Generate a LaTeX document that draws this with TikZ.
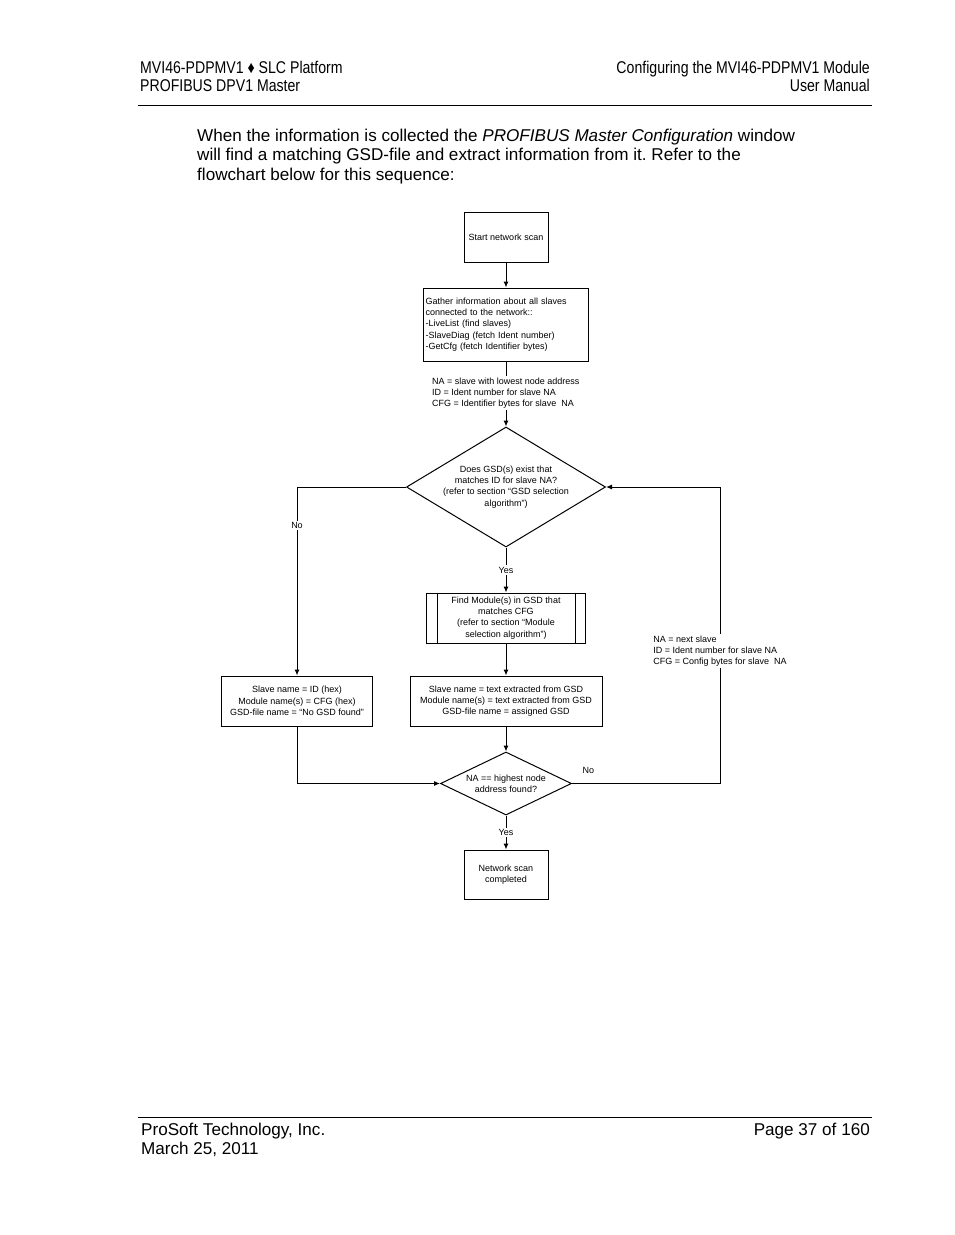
\documentclass[tikz,border=0pt]{standalone}
\usepackage{fontspec}
\setmainfont{Liberation Sans}
\newfontfamily\narrowfont[FakeStretch=0.83]{Liberation Sans}
\usetikzlibrary{shapes.geometric,arrows.meta}
\frenchspacing
\newcommand\chartfont{\fontsize{9}{11.3}\selectfont}
\newcommand\pagefont{\fontsize{17.1}{19.5}\selectfont}
\newcommand\headfont{\narrowfont\fontsize{17}{19}\selectfont}
\tikzset{
  stepbox/.style={draw, line width=1pt, rectangle, inner sep=0pt, font=\chartfont, align=center},
  decision/.style={draw, line width=1pt, diamond, inner sep=0pt},
  chartlabel/.style={font=\chartfont, inner sep=1.5pt},
  flow/.style={line width=1pt, -{Latex[length=6pt,width=5pt]}},
  pagetext/.style={inner sep=0pt, font=\pagefont},
  headtext/.style={inner sep=0pt, font=\headfont}
}
\begin{document}
\begin{tikzpicture}[x=1pt,y=-1pt]
  \fill[white] (0,0) rectangle (954,1235);
  \useasboundingbox (0,0) rectangle (954,1235);
  % page header
  \node[headtext, anchor=base west] (headl1) at (140,73) {MVI46-PDPMV1 ♦ SLC Platform};
  \node[headtext, anchor=base west] (headl2) at (140,91.5) {PROFIBUS DPV1 Master};
  \node[headtext, anchor=base east] (headr1) at (870,73) {Configuring the MVI46-PDPMV1 Module};
  \node[headtext, anchor=base east] (headr2) at (870,91.5) {User Manual};
  \draw[line width=1pt] (138,105.5) -- (872,105.5);
  % intro text
  \node[pagetext, anchor=base west] (intro1) at (197,141) {When the information is collected the \textit{PROFIBUS Master Configuration} window};
  \node[pagetext, anchor=base west] (intro2) at (197,160.5) {will find a matching GSD-file and extract information from it. Refer to the};
  \node[pagetext, anchor=base west] (intro3) at (197,180) {flowchart below for this sequence:};
  % flowchart
  \node[stepbox, minimum width=84pt, minimum height=50pt] (start) at (506,237) {Start network scan};
  \node[stepbox, minimum width=165pt, minimum height=73pt, text width=161pt, inner xsep=2pt, align=left] (gather) at (506,324.5)
    {Gather information about all slaves\\ connected to the network::\\ -LiveList (find slaves)\\ -SlaveDiag (fetch Ident number)\\ -GetCfg (fetch Identifier bytes)};
  \node[chartlabel, anchor=west, align=left] (slaveinfo) at (430.5,393)
    {NA = slave with lowest node address\\ ID = Ident number for slave NA\\ CFG = Identifier bytes for slave~ NA};
  \node[decision, minimum width=199pt, minimum height=120pt] (gsdcheck) at (506,487) {};
  \node[chartlabel, align=center] (gsdtext) at (gsdcheck)
    {Does GSD(s) exist that\\ matches ID for slave NA?\\ (refer to section “GSD selection\\ algorithm”)};
  \node[stepbox, minimum width=159pt, minimum height=50pt] (findmod) at (506,618)
    {Find Module(s) in GSD that\\ matches CFG\\ (refer to section “Module\\ selection algorithm”)};
  \draw[line width=1pt] ([xshift=11pt]findmod.north west) -- ([xshift=11pt]findmod.south west);
  \draw[line width=1pt] ([xshift=-11pt]findmod.north east) -- ([xshift=-11pt]findmod.south east);
  \node[stepbox, minimum width=151pt, minimum height=50pt] (noentry) at (297,701)
    {Slave name = ID (hex)\\ Module name(s) = CFG (hex)\\ GSD-file name = “No GSD found”};
  \node[stepbox, minimum width=192pt, minimum height=50pt] (gsdentry) at (506,701)
    {Slave name = text extracted from GSD\\ Module name(s) = text extracted from GSD\\ GSD-file name = assigned GSD};
  \node[decision, minimum width=131pt, minimum height=63pt] (lastcheck) at (506,783.5) {};
  \node[chartlabel, align=center] (lasttext) at (lastcheck) {NA == highest node\\ address found?};
  \node[stepbox, minimum width=84pt, minimum height=49pt] (done) at (506,874.5) {Network scan\\ completed};
  \coordinate (loop) at (720,783.5);
  % connectors
  \draw[flow] (start.south) -- (gather.north);
  \draw[line width=1pt] (gather.south) -- (gather.south |- slaveinfo.north);
  \draw[flow] (gather.south |- slaveinfo.south) -- (gsdcheck.north);
  \draw[flow] (gsdcheck.west) -| node[chartlabel, fill=white, pos=0.603] (nolabel) {No} (noentry.north);
  \draw[flow] (gsdcheck.south) -- node[chartlabel, fill=white] (yeslabel) {Yes} (findmod.north);
  \draw[flow] (findmod.south) -- (gsdentry.north);
  \draw[flow] (gsdentry.south) -- (lastcheck.north);
  \draw[flow] (noentry.south) |- (lastcheck.west);
  \draw[flow] (lastcheck.east) -- node[chartlabel, above=8pt, pos=0.11] (loopno) {No} (loop)
    |- node[chartlabel, fill=white, align=left, pos=0.223] (nextinfo)
    {NA = next slave\\ ID = Ident number for slave NA\\ CFG = Config bytes for slave~ NA} (gsdcheck.east);
  \draw[flow] (lastcheck.south) -- node[chartlabel, fill=white] (doneyes) {Yes} (done.north);
  % page footer
  \draw[line width=1pt] (138,1117) -- (872,1117);
  \node[pagetext, anchor=base west] (foot1) at (141,1135) {ProSoft Technology, Inc.};
  \node[pagetext, anchor=base west] (foot2) at (141,1154) {March 25, 2011};
  \node[pagetext, anchor=base east] (foot3) at (870,1135) {Page 37 of 160};
\end{tikzpicture}
\end{document}
